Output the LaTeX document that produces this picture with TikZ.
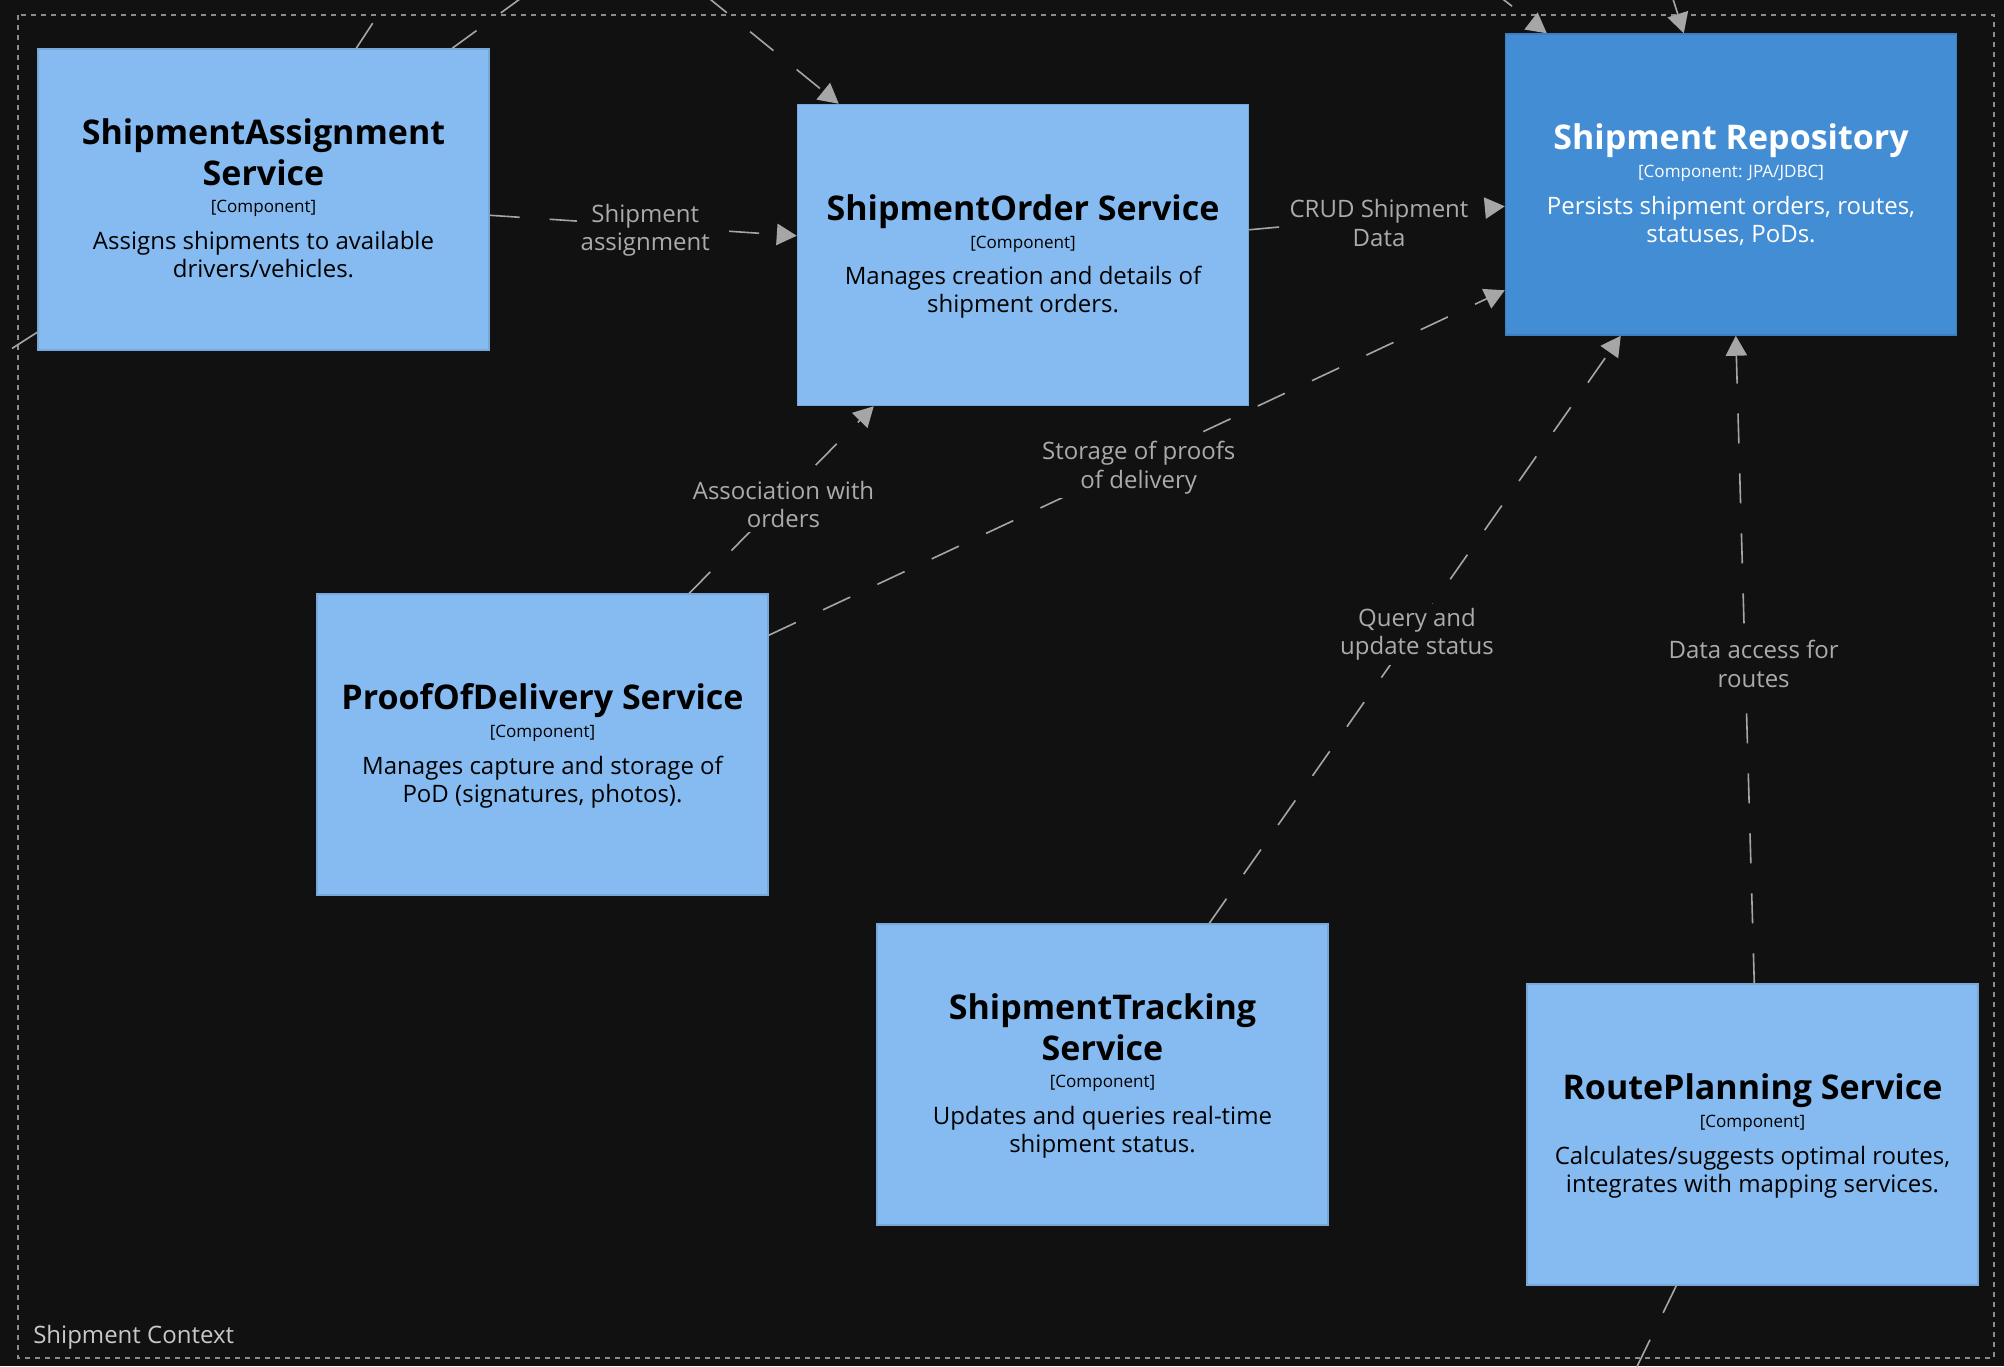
\documentclass[tikz,border=0pt]{standalone}
\usepackage{fontspec}
\setmainfont{Open Sans}
\usetikzlibrary{arrows.meta,calc}
\definecolor{bgc}{HTML}{111111}
\definecolor{lbox}{HTML}{85BBF0}
\definecolor{lboxd}{HTML}{78A8D8}
\definecolor{dbox}{HTML}{438DD5}
\definecolor{dboxd}{HTML}{3C7FC0}
\definecolor{conn}{HTML}{A6A6A6}
\definecolor{lbltxt}{HTML}{ABABAB}
\definecolor{bnd}{HTML}{8C8C8C}
\definecolor{bndtxt}{HTML}{C8C8C8}
\tikzset{
  comp/.style={draw=lboxd, fill=lbox, line width=1.1pt, minimum width=338.25pt, minimum height=225.75pt, inner sep=0pt},
  repo/.style={comp, draw=dboxd, fill=dbox},
  ttl/.style={font=\fontsize{25.5}{30}\selectfont\bfseries, anchor=base, inner sep=0pt},
  ctype/.style={font=\fontsize{12.8}{15}\selectfont, anchor=base, inner sep=0pt},
  desc/.style={font=\fontsize{18}{21}\selectfont, anchor=base, inner sep=0pt},
  relx/.style={draw=conn, line width=1.2pt, dash pattern=on 22.5pt off 22.5pt},
  rel/.style={relx, -{Triangle[length=15pt,width=16pt]}},
  lbl/.style={font=\fontsize{18}{21.5}\selectfont, text=lbltxt, fill=bgc, align=center, inner sep=3pt, yshift=-3.5pt, xshift=1.5pt},
  bndline/.style={draw=bnd, line width=1.1pt, dash pattern=on 3.5pt off 4pt},
  bndlbl/.style={font=\fontsize{18}{21}\selectfont, text=bndtxt, anchor=base west, inner sep=0pt},
}
\newcommand\txtone[5]{%
  \node[ttl] (#1t) at ($(#1.center)+(0,-35)$) {#2};
  \node[ctype] (#1c) at ($(#1.center)+(0,-7)$) {#3};
  \node[desc] (#1d1) at ($(#1.center)+(0,29.5)$) {#4};
  \node[desc] (#1d2) at ($(#1.center)+(0,57.5)$) {#5};
}
\newcommand\txttwo[6]{%
  \node[ttl] (#1t) at ($(#1.center)+(0,-55)$) {#2};
  \node[ttl] (#1u) at ($(#1.center)+(0,-14)$) {#3};
  \node[ctype] (#1c) at ($(#1.center)+(0,13)$) {#4};
  \node[desc] (#1d1) at ($(#1.center)+(0,50)$) {#5};
  \node[desc] (#1d2) at ($(#1.center)+(0,78)$) {#6};
}
\begin{document}
\begin{tikzpicture}[x=0.75pt,y=-0.75pt]
\useasboundingbox (0,0) rectangle (2004,1366);
\fill[bgc] (0,0) rectangle (2004,1366);
\clip (0,0) rectangle (2004,1366);

% boundary
\draw[bndline] (18,15) rectangle (1994,1358);
\node[bndlbl] (bl) at (33,1343) {Shipment Context};

% boxes
\node[comp] (sa) at (263.5,199.5) {};
\node[comp] (so) at (1023,255) {};
\node[repo] (re) at (1731,184.5) {};
\node[comp] (pod) at (542.5,744.5) {};
\node[comp] (st) at (1102.5,1074.5) {};
\node[comp] (rp) at (1752.5,1134.5) {};

\txttwo{sa}{ShipmentAssignment}{Service}{[Component]}{Assigns shipments to available}{drivers/vehicles.}
\txtone{so}{ShipmentOrder Service}{[Component]}{Manages creation and details of}{shipment orders.}
\begin{scope}[every node/.append style={text=white}]
\txtone{re}{Shipment Repository}{[Component: JPA/JDBC]}{Persists shipment orders, routes,}{statuses, PoDs.}
\end{scope}
\txtone{pod}{ProofOfDelivery Service}{[Component]}{Manages capture and storage of}{PoD (signatures, photos).}
\txttwo{st}{ShipmentTracking}{Service}{[Component]}{Updates and queries real-time}{shipment status.}
\txtone{rp}{RoutePlanning Service}{[Component]}{Calculates/suggests optimal routes,}{integrates with mapping services.}

% external free ends
\coordinate (ext1) at (401,-20);
\coordinate (ext2) at (546,-20);
\coordinate (ext3) at (657,-44);
\coordinate (ext4) at (1441,-49);
\coordinate (ext5) at (1651,-71);
\coordinate (ext6) at (-20,369);
\coordinate (ext7) at (1611,1420);

% connectors
\draw[rel] ($(sa.north east)+(0,167)$) -- node[lbl] (l1) {Shipment\\assignment} ($(so.north west)+(0,132)$);
\draw[rel] ($(so.north east)+(0,126)$) -- node[lbl] (l2) {CRUD Shipment\\Data} ($(re.north west)+(0,173)$);
\draw[rel] ($(pod.north west)+(373,0)$) -- node[lbl] (l3) {Association with\\orders} ($(so.south west)+(77,0)$);
\draw[rel] ($(pod.north east)+(0,42)$) -- node[lbl] (l4) {Storage of proofs\\of delivery} ($(re.north west)+(0,257)$);
\draw[rel] ($(st.north west)+(333,0)$) -- node[lbl] (l5) {Query and\\update status} ($(re.south west)+(116,0)$);
\draw[rel] ($(rp.north west)+(228,0)$) -- node[lbl, xshift=5pt] (l6) {Data access for\\routes} ($(re.south west)+(231,0)$);

% connectors to elements outside the view
\draw[relx] ($(sa.north west)+(319,0)$) -- (ext1);
\draw[relx] ($(sa.north west)+(415,0)$) -- (ext2);
\draw[rel] (ext3) -- ($(so.north west)+(42,0)$);
\draw[rel] (ext4) -- ($(re.north west)+(42,0)$);
\draw[rel] (ext5) -- ($(re.north west)+(179,0)$);
\draw[relx] ($(sa.north west)+(0,284)$) -- (ext6);
\draw[relx] ($(rp.south west)+(150,0)$) -- (ext7);
\end{tikzpicture}
\end{document}
